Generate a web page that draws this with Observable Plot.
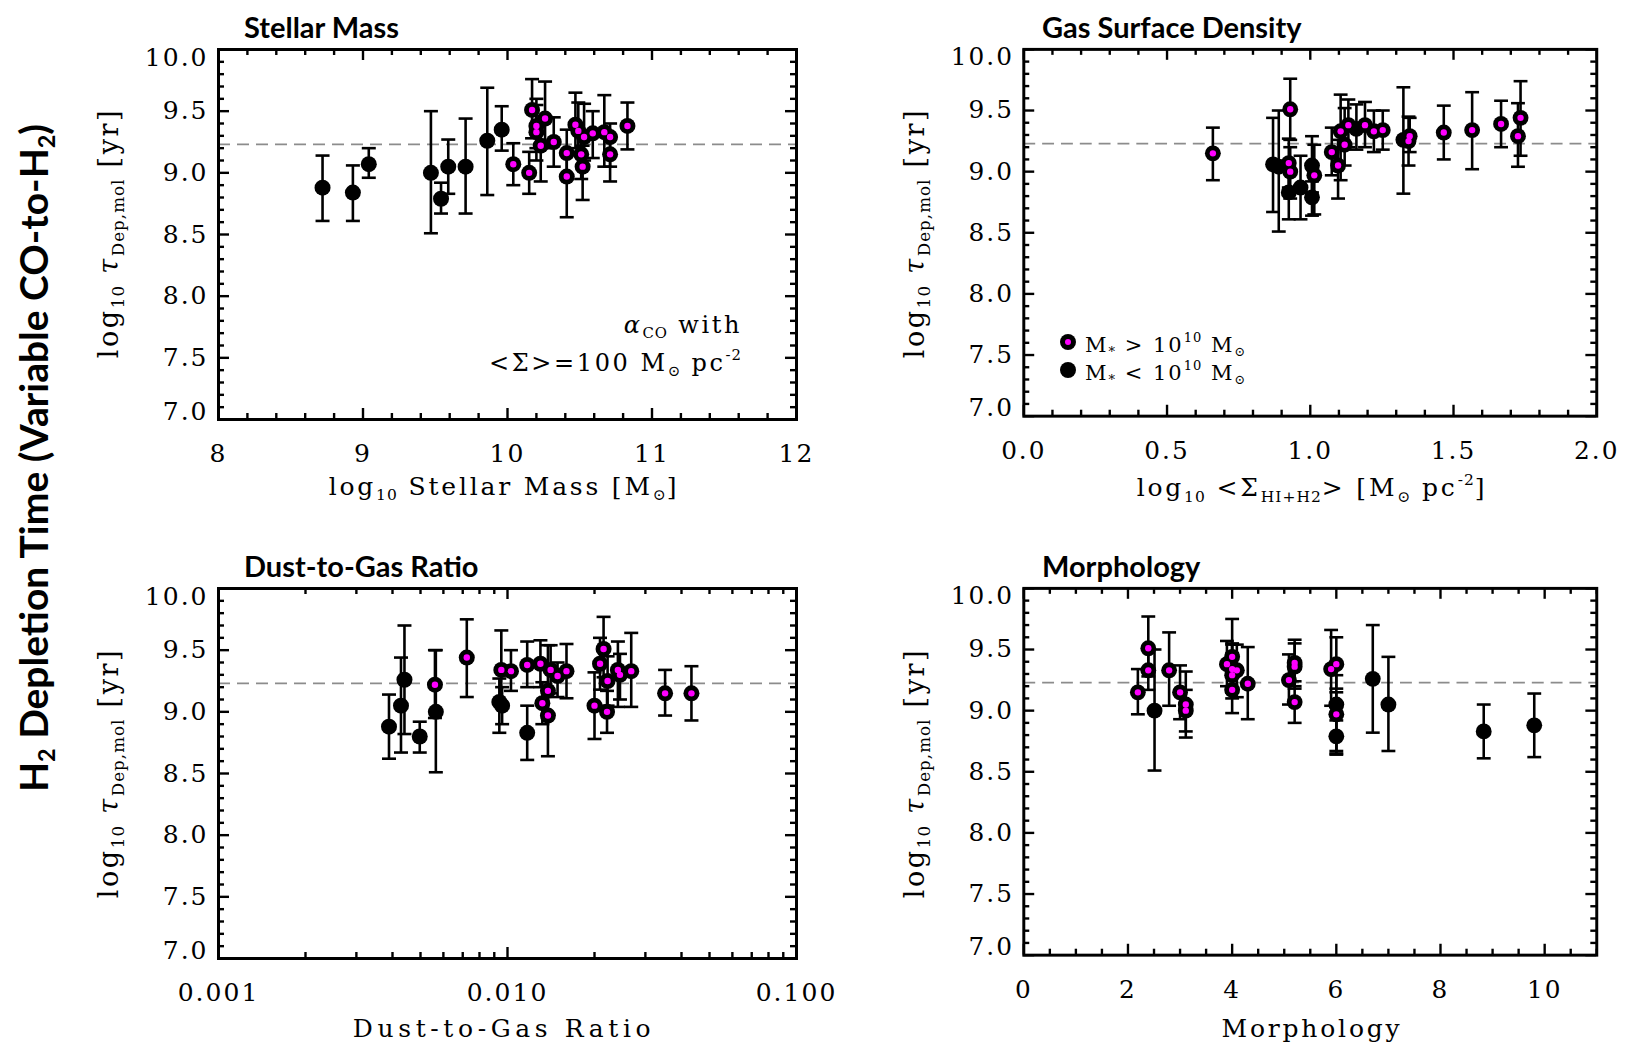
<!DOCTYPE html>
<html>
<head>
<meta charset="utf-8">
<script src="https://cdn.jsdelivr.net/npm/d3@7"></script>
<script src="https://cdn.jsdelivr.net/npm/@observablehq/plot@0.6"></script>
<style>
  html, body { margin: 0; padding: 0; background: #fff; }
  #fig { position: relative; width: 1626px; height: 1044px; overflow: hidden; background: #fff; }
  .panel { position: absolute; }
  .panel svg { overflow: visible; }
  .ttl { position: absolute; font-family: Lato, "Open Sans", sans-serif; font-weight: bold; font-size: 29px; line-height: 1; white-space: nowrap; color: #000; }
  .lab { position: absolute; font-family: "DejaVu Serif", serif; font-size: 25px; letter-spacing: 2.8px; white-space: nowrap; line-height: 1; color: #000; transform: translate(-50%, -50%); }
  .ylab { transform: translate(-50%, -50%) rotate(-90deg); font-size: 27px; letter-spacing: 2.6px; }
  .lab sub, .ann sub, .leg sub { font-size: 0.62em; vertical-align: -0.35em; letter-spacing: 1px; }
  .lab sup, .ann sup, .leg sup { font-size: 0.62em; vertical-align: 0.75em; letter-spacing: 1px; }
  .ann { position: absolute; font-family: "DejaVu Serif", serif; font-size: 24px; letter-spacing: 2.6px; white-space: nowrap; line-height: 1; text-align: right; color: #000; }
  .leg { position: absolute; font-family: "DejaVu Serif", serif; font-size: 21px; letter-spacing: 2px; white-space: nowrap; line-height: 1; color: #000; }
  .sym { position: absolute; width: 16px; height: 16px; border-radius: 50%; background: #000; transform: translate(-50%, -50%); }
  .sym.m::after { content: ""; position: absolute; left: 5px; top: 5px; width: 6px; height: 6px; border-radius: 50%; background: #ff00ff; }
  .big { position: absolute; font-family: Lato, "Open Sans", sans-serif; font-weight: bold; font-size: 39px; white-space: nowrap; line-height: 1; transform: translate(-50%, -50%) rotate(-90deg); }
  .big sub { font-size: 0.6em; vertical-align: -0.3em; }
</style>
</head>
<body>
<div id="fig"></div>
<script>
// ---------------- DATA ----------------
// common y reference (dashed line)
const refLevel = [9.23];
const yMajor = [7.0, 7.5, 8.0, 8.5, 9.0, 9.5, 10.0];

// group: 1 = M* > 1e10 Msun (magenta centre), 0 = M* < 1e10 Msun (black)
// Panel 1: Stellar mass
const massX  = [8.72, 8.93, 9.04, 9.47, 9.54, 9.59, 9.71, 9.86, 9.96,
                10.04, 10.15, 10.17, 10.20, 10.20, 10.23, 10.26, 10.32, 10.41, 10.41,
                10.47, 10.49, 10.51, 10.52, 10.53, 10.59, 10.67, 10.71, 10.71, 10.83];
const massY  = [8.88, 8.84, 9.07, 9.00, 8.79, 9.05, 9.05, 9.26, 9.35,
                9.07, 9.00, 9.51, 9.38, 9.33, 9.22, 9.44, 9.25, 9.16, 8.97,
                9.39, 9.34, 9.15, 9.05, 9.29, 9.32, 9.33, 9.29, 9.15, 9.38];
const massLo = [8.61, 8.61, 8.96, 8.51, 8.67, 8.83, 8.67, 8.82, 9.18,
                8.90, 8.83, 9.28, 9.20, 9.10, 8.93, 9.20, 9.05, 8.98, 8.64,
                9.20, 9.15, 8.95, 8.78, 9.10, 9.12, 9.05, 9.05, 8.93, 9.19];
const massHi = [9.14, 9.06, 9.20, 9.50, 8.92, 9.27, 9.44, 9.69, 9.54,
                9.24, 9.17, 9.76, 9.60, 9.55, 9.40, 9.74, 9.45, 9.35, 9.15,
                9.65, 9.57, 9.30, 9.22, 9.56, 9.50, 9.63, 9.40, 9.30, 9.57];
const massGrp = [0,0,0,0,0,0,0,0,0, 1,1,1,1,1,1,1,1,1,1, 1,1,1,1,1,1,1,1,1,1];

// Panel 2: Gas surface density
const gasX  = [0.66, 0.87, 0.89, 0.93, 0.925, 0.93, 0.925, 0.966, 1.006, 1.014, 1.006,
               1.075, 1.097, 1.106, 1.12, 1.133, 1.161, 1.191, 1.222, 1.253,
               1.325, 1.343, 1.347, 1.466, 1.565, 1.666, 1.725, 1.734];
const gasY  = [9.15, 9.06, 9.04, 9.51, 9.07, 9.00, 8.83, 8.87, 9.05, 8.97, 8.79,
               9.16, 9.05, 9.33, 9.22, 9.38, 9.35, 9.38, 9.33, 9.34,
               9.26, 9.25, 9.29, 9.32, 9.34, 9.39, 9.29, 9.44];
const gasLo = [8.93, 8.67, 8.51, 9.26, 8.87, 8.78, 8.61, 8.61, 8.83, 8.65, 8.64,
               8.97, 8.78, 8.93, 9.05, 9.20, 9.18, 9.20, 9.16, 9.18,
               8.82, 9.05, 9.16, 9.10, 9.02, 9.20, 9.04, 9.13];
const gasHi = [9.36, 9.44, 9.50, 9.76, 9.27, 9.20, 9.05, 9.13, 9.29, 9.22, 8.92,
               9.36, 9.26, 9.63, 9.52, 9.59, 9.55, 9.57, 9.50, 9.50,
               9.69, 9.45, 9.44, 9.54, 9.65, 9.58, 9.56, 9.74];
const gasGrp = [1,0,0,1,1,1,0,0,0,1,0, 1,1,1,1,1,0,1,1,1, 0,1,1,1,1,1,1,1];

// Panel 3: Dust-to-gas ratio
const dgrX  = [0.00389, 0.00428, 0.00440, 0.00497, 0.00561, 0.00565, 0.00723, 0.00937, 0.00958, 0.00952,
               0.01028, 0.0117, 0.0117, 0.0130, 0.0132, 0.0138, 0.0138, 0.0141, 0.0149, 0.0160,
               0.0200, 0.0209, 0.0215, 0.0222, 0.0221, 0.0241, 0.0245, 0.0268, 0.0351, 0.0433];
const dgrY  = [8.88, 9.05, 9.26, 8.80, 9.22, 9.00, 9.44, 9.08, 9.05, 9.34,
               9.33, 8.83, 9.38, 9.39, 9.07, 9.17, 8.97, 9.34, 9.29, 9.33,
               9.05, 9.39, 9.51, 9.25, 9.00, 9.34, 9.30, 9.33, 9.15, 9.15];
const dgrLo = [8.62, 8.67, 8.82, 8.67, 8.95, 8.51, 9.12, 8.83, 8.90, 9.05,
               9.17, 8.61, 9.20, 9.20, 8.90, 8.98, 8.64, 9.15, 9.12, 9.11,
               8.78, 9.18, 9.28, 9.05, 8.83, 9.04, 9.10, 9.04, 8.97, 8.93];
const dgrHi = [9.14, 9.44, 9.70, 8.92, 9.50, 9.50, 9.75, 9.27, 9.20, 9.66,
               9.50, 9.05, 9.57, 9.58, 9.24, 9.54, 9.15, 9.54, 9.40, 9.55,
               9.32, 9.60, 9.77, 9.45, 9.17, 9.57, 9.47, 9.64, 9.34, 9.37];
const dgrGrp = [0,0,0,0,1,0,1,0,0,1, 1,0,1,1,1,1,1,1,1,1, 1,1,1,1,1,1,1,1,1,1];

// Panel 4: Morphology
const morX  = [2.19, 2.39, 2.39, 2.51, 2.79, 3.00, 3.11, 3.11, 3.90, 4.00, 4.00, 4.00, 4.00, 4.09,
               4.30, 5.09, 5.20, 5.20, 5.20, 5.90, 6.00, 6.00, 6.00, 6.00, 6.70, 7.00, 8.83, 9.80];
const morY  = [9.15, 9.51, 9.33, 9.00, 9.33, 9.15, 9.05, 9.00, 9.38, 9.44, 9.34, 9.29, 9.17, 9.33,
               9.22, 9.25, 9.39, 9.36, 9.07, 9.34, 9.38, 9.05, 8.97, 8.79, 9.26, 9.05, 8.83, 8.88];
const morLo = [8.97, 9.28, 9.17, 8.51, 9.04, 8.93, 8.83, 8.78, 9.20, 9.15, 9.15, 9.10, 8.98, 9.11,
               8.93, 9.05, 9.18, 9.20, 8.90, 9.04, 9.18, 8.67, 8.64, 8.65, 8.82, 8.67, 8.61, 8.62];
const morHi = [9.34, 9.77, 9.50, 9.50, 9.64, 9.37, 9.32, 9.17, 9.57, 9.75, 9.55, 9.47, 9.54, 9.54,
               9.52, 9.46, 9.58, 9.55, 9.24, 9.66, 9.60, 9.29, 9.15, 8.92, 9.70, 9.44, 9.05, 9.14];
const morGrp = [1,1,1,0,1,1,1,1,1,1,1,1,1,1, 1,1,1,1,1,1,1,0,1,0,0,0,0,0];

// tick values
const massTicks = [8, 9, 10, 11, 12];
const gasTicks  = [0.0, 0.5, 1.0, 1.5, 2.0];
const dgrTicks  = [0.001, 0.010, 0.100];
const morTicks  = [0, 2, 4, 6, 8, 10];

// ---------------- DRAWING ----------------
const FW = 578, FH = 370, ML = 80, MR = 30, MT = 12, MB = 60;
const capSym = { draw(ctx, size) { const w = Math.sqrt(size / Math.PI); ctx.moveTo(-w, 0); ctx.lineTo(w, 0); } };
const yMinor = d3.range(70, 101).map(v => v / 10).filter(v => Math.abs(v * 2 - Math.round(v * 2)) > 1e-6);

function makePanel(cfg) {
  const rows = cfg.x.map((v, i) => ({ x: v, y: cfg.y[i], lo: cfg.lo[i], hi: cfg.hi[i], big: cfg.g[i] === 1 }));
  const midY = yMajor.filter(v => v > 7 && v < 10);
  const tk = { stroke: "#000", strokeWidth: 2.4 };
  return Plot.plot({
    width: FW + ML + MR, height: FH + MT + MB,
    marginLeft: ML, marginRight: MR, marginTop: MT, marginBottom: MB,
    x: { ...cfg.xScale, label: null },
    y: { domain: [7, 10], label: null },
    style: { fontFamily: "'DejaVu Serif', serif", fontSize: "25px", letterSpacing: "2px", color: "#000", background: "transparent", overflow: "visible" },
    marks: [
      Plot.ruleY(refLevel, { stroke: "#8c8c8c", strokeWidth: 1.8, strokeDasharray: "12,7" }),
      // inward ticks on all four sides
      Plot.tickX(cfg.xMajor, { x: d => d, insetTop: FH - 11, ...tk }),
      Plot.tickX(cfg.xMajor, { x: d => d, insetBottom: FH - 11, ...tk }),
      Plot.tickX(cfg.xMinor, { x: d => d, insetTop: FH - 6, ...tk }),
      Plot.tickX(cfg.xMinor, { x: d => d, insetBottom: FH - 6, ...tk }),
      Plot.tickY(yMajor, { y: d => d, insetRight: FW - 11, ...tk }),
      Plot.tickY(yMajor, { y: d => d, insetLeft: FW - 11, ...tk }),
      Plot.tickY(yMinor, { y: d => d, insetRight: FW - 6, ...tk }),
      Plot.tickY(yMinor, { y: d => d, insetLeft: FW - 6, ...tk }),
      // tick labels
      Plot.axisX(cfg.xMajor, { tickSize: 0, tickPadding: 25, tickFormat: cfg.xFmt, label: null }),
      Plot.axisY(midY, { tickSize: 0, tickPadding: 10, tickFormat: d => d.toFixed(1), label: null }),
      Plot.axisY([10], { tickSize: 0, tickPadding: 10, tickFormat: d => d.toFixed(1), label: null, dy: 8 }),
      Plot.axisY([7], { tickSize: 0, tickPadding: 10, tickFormat: d => d.toFixed(1), label: null, dy: -8 }),
      // error bars
      Plot.ruleX(rows, { x: "x", y1: "lo", y2: "hi", stroke: "#000", strokeWidth: 2.6 }),
      Plot.dot(rows, { x: "x", y: "lo", symbol: capSym, r: 7, stroke: "#000", fill: "none", strokeWidth: 2.6 }),
      Plot.dot(rows, { x: "x", y: "hi", symbol: capSym, r: 7, stroke: "#000", fill: "none", strokeWidth: 2.6 }),
      // points
      Plot.dot(rows, { x: "x", y: "y", r: 8, fill: "#000", stroke: "none" }),
      Plot.dot(rows.filter(d => d.big), { x: "x", y: "y", r: 3.2, fill: "#ff00ff", stroke: "none" }),
      Plot.frame({ stroke: "#000", strokeWidth: 3 })
    ]
  });
}

const fig = document.getElementById("fig");
function place(svg, frameLeft, frameTop) {
  const d = document.createElement("div");
  d.className = "panel";
  d.style.left = (frameLeft - ML) + "px";
  d.style.top = (frameTop - MT) + "px";
  d.appendChild(svg);
  fig.appendChild(d);
}
function html(cls, left, top, inner, extra) {
  const d = document.createElement("div");
  d.className = cls;
  d.style.left = left + "px";
  d.style.top = top + "px";
  if (extra) Object.assign(d.style, extra);
  d.innerHTML = inner;
  fig.appendChild(d);
  return d;
}

const P = [
  { L: 218, T: 49 }, { L: 1024, T: 49 }, { L: 218, T: 588 }, { L: 1024, T: 588 }
];

place(makePanel({ x: massX, y: massY, lo: massLo, hi: massHi, g: massGrp,
  xScale: { domain: [8, 12] }, xMajor: massTicks,
  xMinor: d3.range(80, 121, 2).map(v => v / 10).filter(v => v % 1 !== 0),
  xFmt: d => String(d) }), P[0].L, P[0].T);

place(makePanel({ x: gasX, y: gasY, lo: gasLo, hi: gasHi, g: gasGrp,
  xScale: { domain: [0, 2] }, xMajor: gasTicks,
  xMinor: d3.range(0, 21).map(v => v / 10).filter(v => Math.abs(v * 2 - Math.round(v * 2)) > 1e-6),
  xFmt: d => d.toFixed(1) }), P[1].L, P[1].T);

place(makePanel({ x: dgrX, y: dgrY, lo: dgrLo, hi: dgrHi, g: dgrGrp,
  xScale: { type: "log", domain: [0.001, 0.1] }, xMajor: dgrTicks,
  xMinor: [2,3,4,5,6,7,8,9].map(k => k * 0.001).concat([2,3,4,5,6,7,8,9].map(k => k * 0.01)),
  xFmt: d => d.toFixed(3) }), P[2].L, P[2].T);

place(makePanel({ x: morX, y: morY, lo: morLo, hi: morHi, g: morGrp,
  xScale: { domain: [0, 11] }, xMajor: morTicks,
  xMinor: d3.range(0, 23).map(v => v / 2).filter(v => v % 2 !== 0),
  xFmt: d => String(d) }), P[3].L, P[3].T);

// panel titles
html("ttl", 244, 12, "Stellar Mass");
html("ttl", 1042, 12, "Gas Surface Density");
html("ttl", 244, 551, "Dust-to-Gas Ratio");
html("ttl", 1042, 551, "Morphology");

// x-axis titles
const xt1 = 489, xt2 = 1028;
html("lab", 504, xt1, "log<sub>10</sub> Stellar Mass [M<sub>⊙</sub>]");
html("lab", 1312, xt1, "log<sub>10</sub> &lt;Σ<sub>HI+H2</sub>&gt; [M<sub>⊙</sub> pc<sup>-2</sup>]");
html("lab", 504, xt2, "Dust-to-Gas Ratio", { letterSpacing: "4.6px" });
html("lab", 1312, xt2, "Morphology");

// y-axis titles
const ytxt = "log<sub>10</sub> <i>τ</i><sub>Dep,mol</sub> [yr]";
html("lab ylab", 111, 233, ytxt);
html("lab ylab", 917, 233, ytxt);
html("lab ylab", 111, 773, ytxt);
html("lab ylab", 917, 773, ytxt);

// annotation panel 1
html("ann", 430, 313, "<i>α</i><sub>CO</sub> with<br><span style='display:inline-block;margin-top:7px'>&lt;Σ&gt;=100 M<sub>⊙</sub> pc<sup>-2</sup></span>", { width: "312px" });

// legend panel 2
html("sym m", 1068, 342, "");
html("sym", 1068, 370, "");
html("leg", 1085, 331, "M<sub>*</sub> &gt; 10<sup>10</sup> M<sub>⊙</sub>");
html("leg", 1085, 359, "M<sub>*</sub> &lt; 10<sup>10</sup> M<sub>⊙</sub>");

// big left label
html("big", 36, 458, "H<sub>2</sub> Depletion Time (Variable CO-to-H<sub>2</sub>)");
</script>
</body>
</html>
